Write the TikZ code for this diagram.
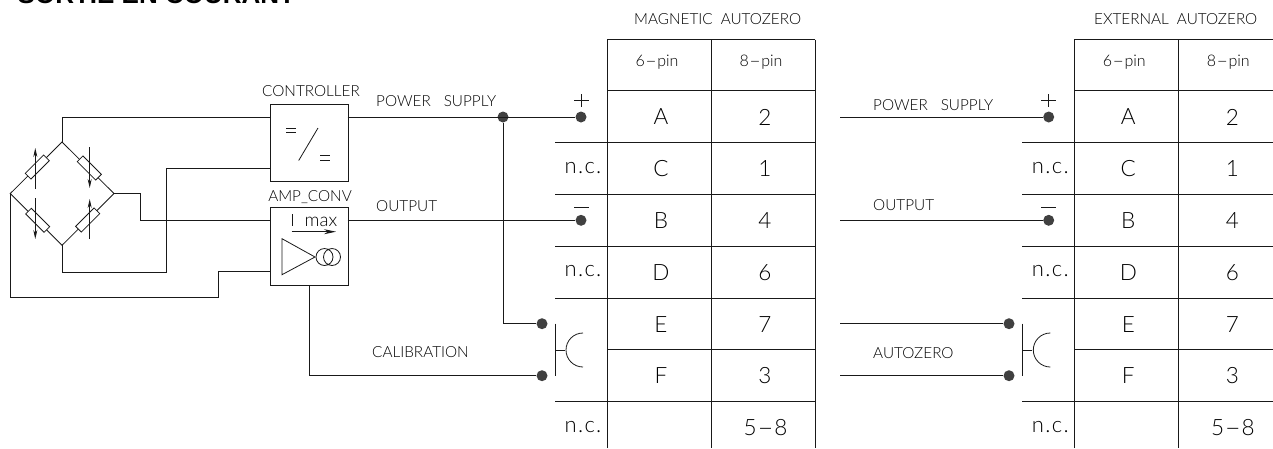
\documentclass[tikz,border=0pt]{standalone}
\usepackage{fontspec}
\setmainfont{Liberation Sans}
\newfontfamily\cad{Lato}[UprightFont=* Light,BoldFont=*]
\newfontfamily\cadw{Lato}[UprightFont=* Light,BoldFont=*,LetterSpace=6]
\usetikzlibrary{arrows.meta}
\definecolor{ink}{gray}{0.1}
\definecolor{dotc}{gray}{0.25}
\newcommand{\gapw}{\hspace{13pt}}
\newcommand{\gapn}{\hspace{8pt}}
\newcommand{\lhy}{\scalebox{2.1}[1]{-}}
\tikzset{
  x=1pt,y=-1pt,
  wire/.style={draw=ink,line width=1pt},
  thin wire/.style={draw=ink,line width=0.8pt},
  blockbox/.style={draw=ink,line width=1pt,minimum width=78pt,anchor=north west,inner sep=0},
  dotn/.style={circle,fill=dotc,inner sep=0,minimum size=11pt},
  lab/.style={inner sep=0,text=black,font=\cad\fontsize{15.3}{15}\selectfont},
  small/.style={lab,font=\cad\fontsize{16}{16}\selectfont},
  big/.style={lab,font=\cad\fontsize{22.5}{23}\selectfont},
  nc/.style={lab,font=\cadw\fontsize{22}{22}\selectfont},
  res/.style={draw=ink,fill=white,line width=0.8pt,minimum width=26pt,minimum height=8pt,inner sep=0},
  arr/.style={draw=ink,line width=0.8pt,-{Stealth[length=9pt,width=4pt]}},
}
\begin{document}
\begin{tikzpicture}
\useasboundingbox (0,0) rectangle (1273,448);
\clip (0,0) rectangle (1273,448);
\node[anchor=base west,inner sep=0,font=\bfseries\fontsize{26}{26}\selectfont] (title) at (17.5,3) {SORTIE EN COURANT};
% bridge
\coordinate (bt) at (62,142); \coordinate (bl) at (10.3,193.5);
\coordinate (br) at (114,193.5); \coordinate (bb) at (62,245.3);
\draw[thin wire] (bt)--(br)--(bb)--(bl)--cycle;
\node[res,rotate=45] (r1) at (37.3,167) {};
\node[res,rotate=-45] (r2) at (89.3,168) {};
\node[res,rotate=-45] (r3) at (37.7,220.3) {};
\node[res,rotate=45] (r4) at (87.7,220) {};
\draw[arr] (35.3,189)--(35.3,148);
\draw[arr] (89.7,147)--(89.7,188);
\draw[arr] (35.3,198)--(35.3,239);
\draw[arr] (89.7,239)--(89.7,199);
% blocks
\node[blockbox,minimum height=77.6pt] (ctrl) at (269.5,103.7) {};
\node[blockbox,minimum height=78pt] (amp) at (269.5,207.3) {};
\node[lab,anchor=base] (ctrll) at (311,96) {CONTROLLER};
\node[lab,anchor=base] (ampl) at (310,201.7) {AMP\_CONV};
\draw[thin wire] (286,128)--(296,128) (286,132.7)--(296,132.7) (320,155.3)--(330,155.3) (320,160)--(330,160);
\draw[thin wire] (298.7,160.5)--(318,128);
\draw[thin wire] (292,214)--(292,226);
\node[lab,anchor=base west,font=\cad\fontsize{18.5}{18}\selectfont] (maxl) at (304.5,226) {max};
\draw[thin wire,-{Stealth[length=12pt,width=5pt]}] (291.7,231.7)--(336,231.7);
\draw[thin wire] (282,238.7)--(282,274.7)--(315,257)--cycle;
\draw[thin wire] (324.5,257) circle (8.5) (332,257) circle (8.5);
% wires left
\coordinate (c1) at (269.5,117); \coordinate (c2) at (269.5,168.7);
\coordinate (a1) at (269.5,220); \coordinate (a2) at (269.5,271.5);
\draw[wire] (bt)--(62,117)--(c1);
\draw[wire] (bb)--(62,272)--(166,272)--(166,168.7)--(c2);
\draw[wire] (br)--(140,193.5)--(140,220)--(a1);
\draw[wire] (bl)--(10.3,297)--(218,297)--(218,271.5)--(a2);
% magnetic side
\node[dotn] (pp) at (581,117) {};
\node[dotn] (pm) at (581,220.3) {};
\node[dotn] (pe) at (542,323.7) {};
\node[dotn] (pf) at (542,375.7) {};
\node[dotn] (jn) at (503,117) {};
\draw[wire] (347.7,117)--(pp);
\draw[wire] (347.7,220.3)--(pm);
\draw[wire] (jn)--(503,323.7)--(pe);
\draw[wire] (309,285.3)--(309,375.7)--(pf);
\node[lab,anchor=base west] (ps1) at (376,106.7) {POWER\gapw SUPPLY};
\node[lab,anchor=base west] (ou1) at (376,211) {OUTPUT};
\node[lab,anchor=base west] (ca1) at (372,357) {CALIBRATION};
% external side
\node[dotn] (qp) at (1048.7,117) {};
\node[dotn] (qm) at (1048.7,220.3) {};
\node[dotn] (qe) at (1009,323.7) {};
\node[dotn] (qf) at (1009,375.7) {};
\coordinate (x1) at (840,117); \coordinate (x2) at (840,220.3);
\coordinate (x3) at (840,323.7); \coordinate (x4) at (840,375.7);
\draw[wire] (x1)--(qp); \draw[wire] (x2)--(qm); \draw[wire] (x3)--(qe); \draw[wire] (x4)--(qf);
\node[lab,anchor=base west] (ps2) at (873,110) {POWER\gapw SUPPLY};
\node[lab,anchor=base west] (ou2) at (873,210) {OUTPUT};
\node[lab,anchor=base west] (az2) at (873,358) {AUTOZERO};
% tables
\foreach \ox in {0,467.3}{
  \begin{scope}[shift={(\ox,0)}]
    \draw[wire] (607.2,448)--(607.2,39.5)--(815,39.5);
    \draw[wire] (711,39.5)--(711,448);
    \draw[wire] (815,39.5)--(815,448);
    \draw[wire] (607.2,90.7)--(815,90.7) (607.2,349.7)--(815,349.7);
    \foreach \y in {142.7,194.3,246.3,298,401.3} \draw[wire] (555,\y)--(815,\y);
    \node[small,anchor=center] at (657,62.5) {6\lhy pin};
    \node[small,anchor=center] at (761,62.5) {8\lhy pin};
    \foreach \t/\b/\y in {A/2/117,C/1/169,B/4/221,D/6/273,E/7/324.5,F/3/376}{
      \node[big] at (661,\y) {\t};
      \node[big] at (765,\y) {\b};
    }
    \node[big] at (765.5,428) {5\lhy 8};
    \foreach \y in {168,271,427} \node[nc] at (583,\y) {n.c.};
    \draw[thin wire] (574,100.5)--(589,100.5) (581.5,94)--(581.5,107);
    \draw[thin wire] (574,207.3)--(589,207.3);
    \draw[thin wire] (555.3,323.7)--(555.3,376);
    \draw[thin wire] (555.3,350)--(565,350);
    \draw[thin wire] (583,333) arc[start angle=270,end angle=90,radius=17];
  \end{scope}
}
\node[lab,anchor=base west] (t1) at (634,24.3) {MAGNETIC\gapn AUTOZERO};
\node[lab,anchor=base west] (t2) at (1094,24.3) {EXTERNAL\gapn AUTOZERO};
\end{tikzpicture}
\end{document}
